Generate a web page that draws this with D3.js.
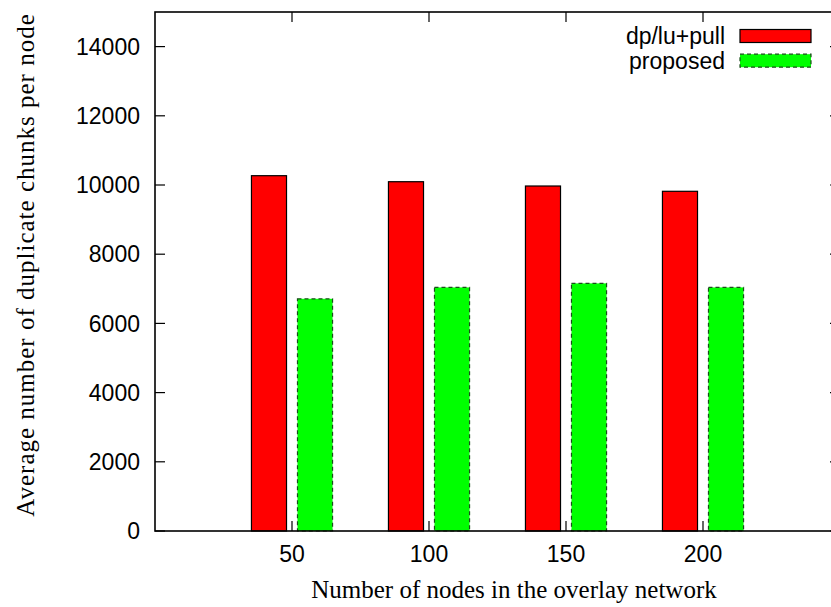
<!DOCTYPE html>
<html lang="en">
<head>
<meta charset="utf-8">
<title>Duplicate chunks per node</title>
<script src="https://cdn.jsdelivr.net/npm/d3@7"></script>
<style>
  body { margin: 0; background: #fff; }
  svg { display: block; }
  .tick-label { font-family: "Liberation Sans", Arial, sans-serif; font-size: 23px; fill: #000; }
  .axis-title { font-family: "Liberation Serif", "Times New Roman", serif; font-size: 25px; fill: #000; }
</style>
</head>
<body>
<svg id="chart" width="831" height="607"></svg>
<script>
/** chart values */
var nodeCounts = [50, 100, 150, 200];
var seriesNames = ["dp/lu+pull", "proposed"];
var dpluPull = [10269, 10095, 9971, 9818];
var proposed = [6711, 7040, 7157, 7040];
var yTicks = [0, 2000, 4000, 6000, 8000, 10000, 12000, 14000];

var svg = d3.select("#chart"),
    plotLeft = 155, plotRight = 840, plotTop = 12, plotBottom = 531;

var xScale = d3.scaleLinear().domain([0, 250]).range([plotLeft, plotRight]);
var yScale = d3.scaleLinear().domain([0, 15000]).range([plotBottom, plotTop]);

/** bars: width and offset in x data units */
var barW = 12.8, barOff = 8.4;
var series = [
  {name: seriesNames[0], values: dpluPull, fill: "#ff0000", stroke: "#000", dash: null, off: -barOff},
  {name: seriesNames[1], values: proposed, fill: "#00ff00", stroke: "#1a4d1a", dash: "4,3", off: barOff}
];

series.forEach(function(s) {
  svg.append("g").selectAll("rect")
    .data(s.values)
    .enter().append("rect")
    .attr("x", function(d, i) { return xScale(nodeCounts[i] + s.off - barW / 2); })
    .attr("y", function(d) { return yScale(d); })
    .attr("width", xScale(barW) - xScale(0))
    .attr("height", function(d) { return yScale(0) - yScale(d); })
    .attr("fill", s.fill)
    .attr("stroke", s.stroke)
    .attr("stroke-width", 1.2)
    .attr("stroke-dasharray", s.dash);
});

/** border box */
svg.append("rect")
  .attr("x", plotLeft).attr("y", plotTop)
  .attr("width", plotRight - plotLeft).attr("height", plotBottom - plotTop)
  .attr("fill", "none").attr("stroke", "#000").attr("stroke-width", 1.6);

/** y ticks left and mirrored right, labels on the left */
var yAxis = svg.append("g");
yTicks.forEach(function(t) {
  var y = yScale(t);
  yAxis.append("line").attr("x1", plotLeft).attr("x2", plotLeft + 10).attr("y1", y).attr("y2", y)
    .attr("stroke", "#000").attr("stroke-width", 1.2);
  yAxis.append("line").attr("x1", plotRight - 10).attr("x2", plotRight).attr("y1", y).attr("y2", y)
    .attr("stroke", "#000").attr("stroke-width", 1.2);
  yAxis.append("text").attr("class", "tick-label")
    .attr("x", plotLeft - 15).attr("y", y).attr("dy", "0.36em")
    .attr("text-anchor", "end").text(t);
});

/** x ticks bottom and top */
var xAxis = svg.append("g");
nodeCounts.forEach(function(n) {
  var x = xScale(n);
  xAxis.append("line").attr("x1", x).attr("x2", x).attr("y1", plotBottom).attr("y2", plotBottom - 10)
    .attr("stroke", "#000").attr("stroke-width", 1.2);
  xAxis.append("line").attr("x1", x).attr("x2", x).attr("y1", plotTop).attr("y2", plotTop + 10)
    .attr("stroke", "#000").attr("stroke-width", 1.2);
  xAxis.append("text").attr("class", "tick-label")
    .attr("x", x).attr("y", 562)
    .attr("text-anchor", "middle").text(n);
});

/** axis titles */
svg.append("text").attr("class", "axis-title")
  .attr("x", 514).attr("y", 598)
  .attr("text-anchor", "middle").text("Number of nodes in the overlay network");

svg.append("text").attr("class", "axis-title")
  .attr("transform", "translate(34,265) rotate(-90)")
  .attr("text-anchor", "middle")
  .style("letter-spacing", "1px")
  .text("Average number of duplicate chunks per node");

/** legend */
var legend = svg.append("g");
series.forEach(function(s, i) {
  var cy = 36 + i * 24.7;
  legend.append("text").attr("class", "tick-label")
    .attr("x", 725).attr("y", cy).attr("dy", "0.36em")
    .attr("text-anchor", "end").text(s.name);
  legend.append("rect")
    .attr("x", 740).attr("y", cy - 6.5).attr("width", 71).attr("height", 13)
    .attr("fill", s.fill).attr("stroke", s.stroke).attr("stroke-width", 1.2)
    .attr("stroke-dasharray", s.dash);
});
</script>
</body>
</html>
